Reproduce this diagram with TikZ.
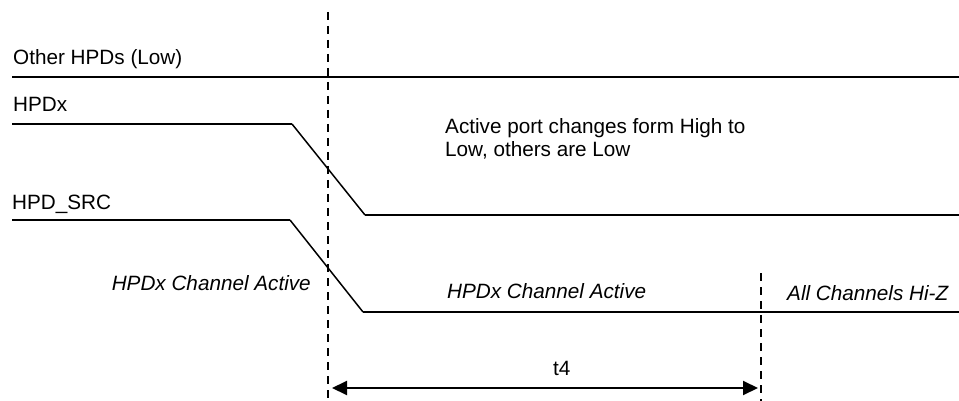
\documentclass[tikz,border=0pt]{standalone}
\usepackage{fontspec}
\setmainfont{Liberation Sans}
\usetikzlibrary{arrows.meta}
\begin{document}
\begin{tikzpicture}[x=1pt,y=-1pt,
  sig/.style={line width=2.2pt,line join=miter},
  slope/.style={line width=1.5pt},
  guide/.style={line width=2.2pt,dash pattern=on 8pt off 6pt},
  lbl/.style={anchor=base west,inner sep=0pt,font=\fontsize{20.7}{23}\selectfont},
  ilbl/.style={lbl,font=\fontsize{20.7}{23}\selectfont\itshape},
  span/.style={line width=2pt,{Triangle[length=15pt,width=14pt]}-{Triangle[length=15pt,width=14pt]}}]
\useasboundingbox (0,0) rectangle (959,401);
% guides
\coordinate (g1t) at (328,12);
\coordinate (g1b) at (328,401);
\coordinate (g2t) at (761,273);
\coordinate (g2b) at (761,401);
\draw[guide] (g1t) -- (g1b);
\draw[guide] (g2t) -- (g2b);
% Other HPDs
\node[lbl] (lother) at (13,65) {Other HPDs (Low)};
\coordinate (o1) at (12,77);
\coordinate (o2) at (959,77);
\draw[sig] (o1) -- (o2);
% HPDx
\node[lbl] (lhpdx) at (13,112) {HPDx};
\coordinate (x1) at (12,124);
\coordinate (x2) at (292,124);
\coordinate (x3) at (365,215);
\coordinate (x4) at (959,215);
\draw[sig] (x1) -- (x2);
\draw[slope] (x2) -- (x3);
\draw[sig] (x3) -- (x4);
% HPD_SRC
\node[lbl] (lsrc) at (12,210) {HPD\_SRC};
\coordinate (s1) at (12,220);
\coordinate (s2) at (290,220);
\coordinate (s3) at (363,312);
\coordinate (s4) at (959,312);
\draw[sig] (s1) -- (s2);
\draw[slope] (s2) -- (s3);
\draw[sig] (s3) -- (s4);
% annotations
\node[lbl,align=left] (note) at (445,157) {Active port changes form High to\\Low, others are Low};
\node[ilbl,anchor=base east] (act1) at (311,290) {HPDx Channel Active};
\node[ilbl] (act2) at (447,298) {HPDx Channel Active};
\node[ilbl] (hiz) at (787,300) {All Channels Hi-Z};
% t4
\coordinate (a1) at (332,388);
\coordinate (a2) at (758,388);
\draw[span] (a1) -- (a2);
\node[lbl] (t4) at (553,375) {t4};
\end{tikzpicture}
\end{document}
